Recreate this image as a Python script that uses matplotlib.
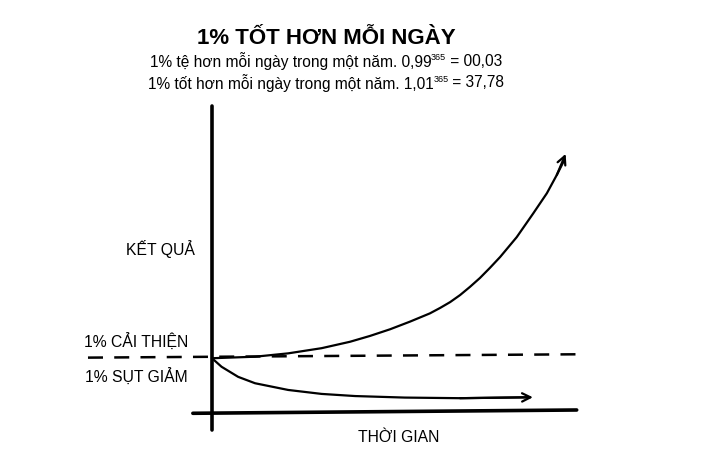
# Sketch of the "1% better every day" compounding chart.

import matplotlib
matplotlib.use('Agg')
import matplotlib.pyplot as plt

plt.rcParams['font.family'] = ['Liberation Sans', 'DejaVu Sans']

title = '1% TỐT HƠN MỖI NGÀY'
subtitle_worse = ('1% tệ hơn mỗi ngày trong một năm. 0,99', '365', ' = 00,03')
subtitle_better = ('1% tốt hơn mỗi ngày trong một năm. 1,01', '365', ' = 37,78')
label_result = 'KẾT QUẢ'
label_time = 'THỜI GIAN'
label_up = '1% CẢI THIỆN'
label_down = '1% SỤT GIẢM'

# curves (time 0..100, result 0..100)
better_t = [0, 11.7, 20.7, 29.8, 37.5, 42.9, 48.4, 53.8, 59.2, 62.0, 64.7, 67.4, 70.1,
            72.8, 75.5, 78.3, 82.8, 87.3, 91.0, 93.7, 95.5, 96.1]
better_v = [17.3, 17.8, 18.9, 20.6, 22.7, 24.6, 26.8, 29.3, 32.0, 33.8, 35.7, 38.0, 40.7,
            43.6, 46.9, 50.5, 57.0, 64.8, 71.4, 77.4, 81.7, 84.3]
worse_t = [0, 2.6, 7.1, 11.7, 20.7, 29.8, 38.9, 52.4, 67.4, 85.5, 87.2]
worse_v = [17.3, 14.5, 11.2, 9.1, 6.9, 5.6, 4.9, 4.4, 4.2, 4.5, 4.5]
baseline_t = [-33.7, 100]
baseline_v = [17.5, 18.6]

fig = plt.figure(figsize=(7.28, 4.66), dpi=100)
ax = fig.add_axes([212 / 728, 55 / 466, 368 / 728, 305 / 466])
ax.set_xlim(0, 100)
ax.set_ylim(0, 100)
ax.axis('off')

# hand drawn axes
ax.plot([0, 0], [100, -6.2], color='black', lw=2.6, clip_on=False, solid_capstyle='round')
ax.plot([-5.2, 99.1], [-0.75, 0.33], color='black', lw=2.6, clip_on=False, solid_capstyle='round')

ax.plot(baseline_t, baseline_v, color='black', lw=1.8, dashes=(6, 4.5), clip_on=False)

arrow = dict(arrowstyle='->', lw=1.6, color='black', mutation_scale=15, shrinkA=0, shrinkB=0)

ax.plot(better_t[:-1], better_v[:-1], color='black', lw=1.6, clip_on=False,
        solid_joinstyle='round', solid_capstyle='round')
ax.annotate('', xy=(better_t[-1], better_v[-1]), xytext=(better_t[-3], better_v[-3]),
            arrowprops=arrow, annotation_clip=False)

ax.plot(worse_t[:-1], worse_v[:-1], color='black', lw=1.6, clip_on=False,
        solid_joinstyle='round', solid_capstyle='round')
ax.annotate('', xy=(worse_t[-1], worse_v[-1]), xytext=(worse_t[-3], worse_v[-3]),
            arrowprops=arrow, annotation_clip=False)

fig.text(326 / 728, 1 - 39 / 466, title, ha='center', va='center', fontsize=16, fontweight='bold')


def superscript_line(parts, xc, yc, size=11.2, sup_size=6.5):
    # main text, small raised exponent, rest of the line, centred as a whole
    renderer = fig.canvas.get_renderer()
    t0 = fig.text(0, yc, parts[0], ha='left', va='center', fontsize=size)
    t1 = fig.text(0, yc + 3.5 / 466, parts[1], ha='left', va='center', fontsize=sup_size)
    t2 = fig.text(0, yc, parts[2], ha='left', va='center', fontsize=size)
    w = [t.get_window_extent(renderer).width / fig.bbox.width for t in (t0, t1, t2)]
    x = xc - sum(w) / 2
    for t, wi in zip((t0, t1, t2), w):
        t.set_x(x)
        x += wi


superscript_line(subtitle_worse, 326 / 728, 1 - 61 / 466)
superscript_line(subtitle_better, 326 / 728, 1 - 83 / 466)

fig.text(195 / 728, 1 - 249 / 466, label_result, ha='right', va='center', fontsize=11.3)
fig.text(188 / 728, 1 - 342 / 466, label_up, ha='right', va='center', fontsize=11.3)
fig.text(188 / 728, 1 - 377 / 466, label_down, ha='right', va='center', fontsize=11.3)
fig.text(399 / 728, 1 - 438 / 466, label_time, ha='center', va='center', fontsize=11.3)

fig.savefig('out.png', dpi=100, facecolor='white')
